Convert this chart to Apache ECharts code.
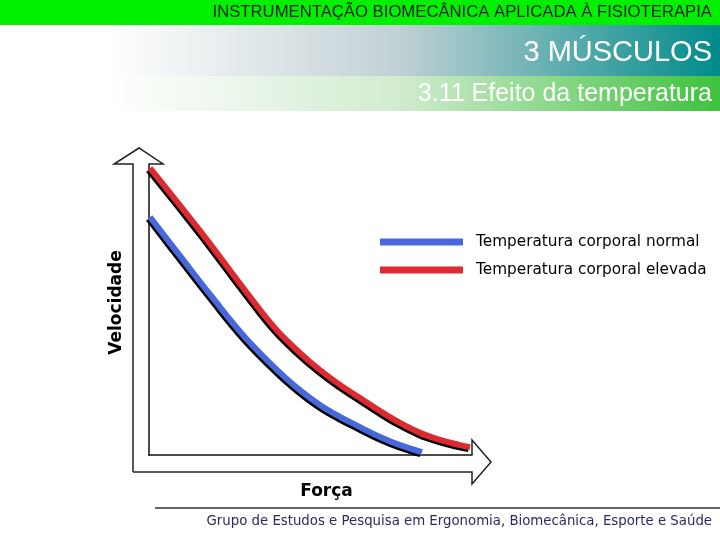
<!DOCTYPE html>
<html><head><meta charset="utf-8">
<script src="https://cdn.jsdelivr.net/npm/echarts@6/dist/echarts.min.js"></script>
<style>html,body{margin:0;padding:0;background:#fff}#c{width:720px;height:540px}</style>
</head><body><div id="c"></div>
<script>
// Data (arbitrary units: force 0-100, velocity 0-100)
const seriesNames = ['Temperatura corporal normal', 'Temperatura corporal elevada'];
const forceNormal = [0.3, 9.6, 19.5, 29.7, 40.6, 46.7, 52.9, 59.1, 65.3, 71.5, 77.7, 84.5];
const velNormal   = [81.8, 68.4, 54.3, 40.5, 28.2, 22.3, 17.2, 13.1, 9.6, 6.2, 3.4, 1.0];
const forceHigh   = [0.3, 15.8, 31.3, 39.0, 46.7, 52.9, 59.1, 65.3, 71.5, 77.7, 83.9, 90.1, 96.3, 99.4];
const velHigh     = [98.6, 77.0, 54.3, 43.6, 35.1, 29.2, 24.1, 19.6, 15.1, 11.0, 7.6, 5.2, 3.4, 2.7];
const xAxisName = 'Força';
const yAxisName = 'Velocidade';

const chart = echarts.init(document.getElementById('c'), null, {renderer: 'canvas'});
const zip = (a, b) => a.map((v, i) => [v, b[i]]);
const lineShadow = {shadowColor: '#000', shadowBlur: 0, shadowOffsetX: -1.5, shadowOffsetY: 2};

chart.setOption({
  animation: false,
  backgroundColor: '#fff',
  grid: {left: 149, top: 164, width: 323, height: 291},
  xAxis: {
    type: 'value', min: 0, max: 100,
    axisLine: {show: true, lineStyle: {color: '#111', width: 1.5}},
    axisTick: {show: false}, axisLabel: {show: false}, splitLine: {show: false},
    name: xAxisName, nameLocation: 'middle', nameGap: 28,
    nameTextStyle: {fontFamily: 'DejaVu Sans', fontWeight: 'bold', fontSize: 17, color: '#000', padding: [0, 0, 0, 32]}
  },
  yAxis: {
    type: 'value', min: 0, max: 100,
    axisLine: {show: true, lineStyle: {color: '#111', width: 1.5}},
    axisTick: {show: false}, axisLabel: {show: false}, splitLine: {show: false},
    name: yAxisName, nameLocation: 'middle', nameGap: 24,
    nameTextStyle: {fontFamily: 'DejaVu Sans', fontWeight: 'bold', fontSize: 17, color: '#000', padding: [0, 0, 0, 14]}
  },
  legend: {
    orient: 'vertical', left: 375, top: 229,
    itemWidth: 83, itemHeight: 7, itemGap: 12, icon: 'rect',
    textStyle: {fontFamily: 'DejaVu Sans', fontSize: 15.3, color: '#000', lineHeight: 16, padding: [0, 0, 0, 8]},
    data: seriesNames
  },
  series: [
    {
      name: seriesNames[0], type: 'line', smooth: 0.4, showSymbol: false, clip: false,
      data: zip(forceNormal, velNormal),
      itemStyle: {color: '#4668dc'},
      lineStyle: Object.assign({color: '#4668dc', width: 6}, lineShadow)
    },
    {
      name: seriesNames[1], type: 'line', smooth: 0.4, showSymbol: false, clip: false,
      data: zip(forceHigh, velHigh),
      itemStyle: {color: '#dc2a30'},
      lineStyle: Object.assign({color: '#dc2a30', width: 6}, lineShadow)
    }
  ],
  graphic: [
    // header bands
    {type: 'rect', shape: {x: 0, y: 0, width: 720, height: 25}, style: {fill: '#00f000'}, z: 0},
    {type: 'rect', shape: {x: 0, y: 25, width: 720, height: 51},
      style: {fill: new echarts.graphic.LinearGradient(0, 0, 1, 0, [
        {offset: 0, color: '#ffffff'}, {offset: 0.15, color: '#ffffff'},
        {offset: 0.55, color: '#c2d1d5'}, {offset: 1, color: '#008b8b'}])}, z: 0},
    {type: 'rect', shape: {x: 0, y: 76, width: 720, height: 35},
      style: {fill: new echarts.graphic.LinearGradient(0, 0, 1, 0, [
        {offset: 0, color: '#ffffff'}, {offset: 0.15, color: '#ffffff'},
        {offset: 0.55, color: '#d2ecd0'}, {offset: 1, color: '#3ec23e'}])}, z: 0},
    {type: 'text', right: 8, top: 4, style: {text: 'INSTRUMENTAÇÃO BIOMECÂNICA APLICADA À FISIOTERAPIA',
      fontFamily: 'Liberation Sans', fontSize: 16.7, fill: '#222'}, z: 5},
    {type: 'text', right: 8, top: 38, style: {text: '3 MÚSCULOS',
      fontFamily: 'Liberation Sans', fontSize: 29, fill: '#fff'}, z: 5},
    {type: 'text', right: 8, top: 82, style: {text: '3.11 Efeito da temperatura',
      fontFamily: 'Liberation Sans', fontSize: 25, fill: '#fff'}, z: 5},
    // hollow axis arrows (decoration)
    {type: 'polyline', shape: {points: [[133, 472], [133, 164], [114, 164], [139, 148], [163, 164], [149, 164]]},
      style: {stroke: '#222', lineWidth: 1.5, fill: null}, z: 3},
    {type: 'polyline', shape: {points: [[133, 472], [472, 472], [472, 484], [491, 462], [472, 440], [472, 455]]},
      style: {stroke: '#222', lineWidth: 1.5, fill: null}, z: 3},
    // footer
    {type: 'line', shape: {x1: 155, y1: 508, x2: 720, y2: 508}, style: {stroke: '#333', lineWidth: 1.5}},
    {type: 'text', right: 8, top: 515, style: {text: 'Grupo de Estudos e Pesquisa em Ergonomia, Biomecânica, Esporte e Saúde',
      fontFamily: 'DejaVu Sans', fontSize: 13.3, fill: '#2a2a66'}}
  ]
});
</script></body></html>
